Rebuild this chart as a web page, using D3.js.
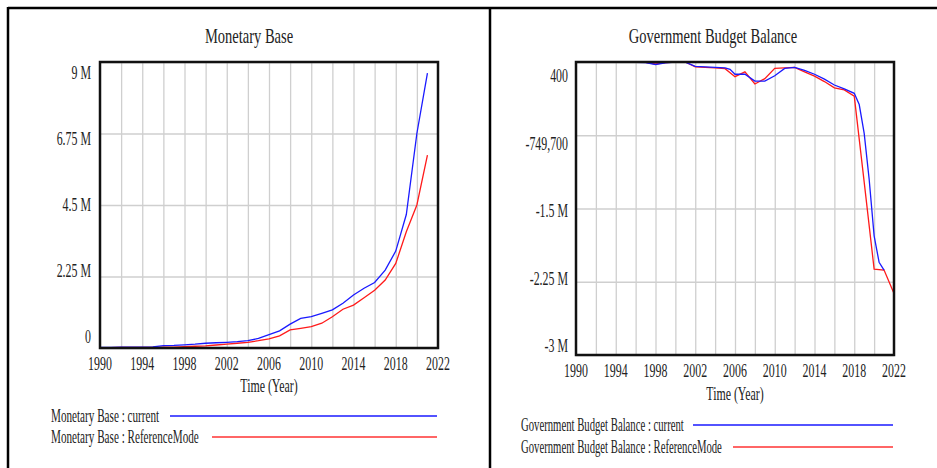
<!DOCTYPE html>
<html>
<head>
<meta charset="utf-8">
<script src="https://cdn.jsdelivr.net/npm/d3@7"></script>
<style>
  body { margin: 0; background: #fff; }
  text { font-family: "Liberation Serif", "Times New Roman", serif; fill: #222; }
</style>
</head>
<body>
<div id="chart"></div>
<script>
"use strict";

/* DATA */

// monetary base, yearly
const mbYears = [1990, 1991, 1992, 1993, 1994, 1995, 1996, 1997, 1998, 1999, 2000, 2001, 2002, 2003, 2004, 2005,
    2006, 2007, 2008, 2009, 2010, 2011, 2012, 2013, 2014, 2015, 2016, 2017, 2018, 2019, 2020, 2021];
const mbCurrent = [20000, 22000, 25000, 28000, 30000, 35000, 75000, 80000, 100000, 120000, 150000, 165000, 180000,
    200000, 230000, 300000, 420000, 540000, 750000, 930000, 985000, 1090000, 1200000, 1410000, 1670000, 1880000,
    2060000, 2450000, 3050000, 4200000, 6750000, 8650000];
const mbReference = [10000, 12000, 15000, 18000, 20000, 22000, 25000, 30000, 40000, 55000, 70000, 95000, 125000,
    150000, 180000, 230000, 290000, 380000, 570000, 620000, 670000, 780000, 985000, 1220000, 1350000, 1580000,
    1820000, 2140000, 2660000, 3660000, 4500000, 6070000];

// government budget balance
const gbbCurrentYears = [1990, 1991, 1992, 1993, 1994, 1995, 1996, 1997, 1998, 1999, 2000, 2001, 2002, 2003, 2004,
    2005, 2005.5, 2006, 2007, 2008, 2009, 2010, 2011, 2012, 2013, 2014, 2015, 2016, 2017, 2018, 2018.5, 2019,
    2019.5, 2020, 2020.5, 2021];
const gbbCurrent = [-3000, -3000, -3000, -3000, -3000, -3000, -3000, -5000, -25000, -8000, 0, -2000, -45000, -50000,
    -55000, -60000, -75000, -125000, -125000, -195000, -195000, -140000, -65000, -55000, -85000, -125000, -175000,
    -235000, -275000, -320000, -435000, -730000, -1200000, -1780000, -2050000, -2130000];
const gbbRefYears = [1990, 1991, 1992, 1993, 1994, 1995, 1996, 1997, 1998, 1999, 2000, 2001, 2002, 2003, 2004,
    2005, 2006, 2007, 2008, 2009, 2010, 2011, 2012, 2013, 2014, 2015, 2016, 2017, 2018, 2019, 2020, 2021, 2022];
const gbbReference = [-2000, -2000, -2000, -2000, -2000, -2000, -2000, -3000, -20000, -5000, 0, 0, -50000, -55000,
    -60000, -68000, -150000, -100000, -225000, -170000, -65000, -60000, -55000, -100000, -145000, -200000, -265000,
    -285000, -350000, -1230000, -2120000, -2130000, -2370000];

// axis ticks
const yearTicks = [1990, 1994, 1998, 2002, 2006, 2010, 2014, 2018, 2022];
const gridYears = [1992, 1994, 1996, 1998, 2000, 2002, 2004, 2006, 2008, 2010, 2012, 2014, 2016, 2018, 2020];
const mbTicks = [0, 2250000, 4500000, 6750000, 9000000];
const mbTickLabels = ["0", "2.25 M", "4.5 M", "6.75 M", "9 M"];
const gbbTicks = [-3000000, -2249900, -1499800, -749700, 400];
const gbbTickLabels = ["-3 M", "-2.25 M", "-1.5 M", "-749,700", "400"];


/* SVG SETUP */

let svgWidth = 937;
let svgHeight = 468;
let squeeze = 0.66; // the font in the picture is narrow, so text gets squeezed

let svg = d3.select("#chart")
    .append("svg")
    .attr("width", svgWidth)
    .attr("height", svgHeight);

// outer frame: top line, left line and the divider
svg.append("line")
    .attr("x1", 8).attr("y1", 8).attr("x2", svgWidth).attr("y2", 8)
    .attr("stroke", "#000").attr("stroke-width", 2.5);
svg.append("line")
    .attr("x1", 8).attr("y1", 7).attr("x2", 8).attr("y2", svgHeight)
    .attr("stroke", "#000").attr("stroke-width", 2.5);
svg.append("line")
    .attr("x1", 490).attr("y1", 7).attr("x2", 490).attr("y2", svgHeight)
    .attr("stroke", "#000").attr("stroke-width", 2.5);


// writes squeezed text
function addText(x, y, str, size, anchor, sx) {
    svg.append("text")
        .attr("transform", "translate(" + x + "," + y + ") scale(" + (sx || squeeze) + ",1)")
        .attr("text-anchor", anchor)
        .attr("font-size", size + "px")
        .text(str);
}


/* PANEL */

function drawPanel(p) {

    let xScale = d3.scaleLinear().domain([1990, 2022]).range([p.left, p.right]);
    let yScale = d3.scaleLinear().domain(p.yDomain).range([p.bottom, p.top]);
    // tick labels sit a bit inside the gridlines, like in the original tool
    let labelScale = d3.scaleLinear().domain(p.yDomain).range(p.labelRange);

    // title
    addText(p.titleX, 43, p.title, 22, "middle");

    // vertical gridlines
    svg.append("g")
        .attr("transform", "translate(0," + p.bottom + ")")
        .call(d3.axisBottom(xScale).tickValues(gridYears).tickSize(-(p.bottom - p.top)).tickFormat(""))
        .call(g => g.select(".domain").remove())
        .call(g => g.selectAll("line").attr("stroke", "#cfcfcf").attr("stroke-width", 1.3));

    // horizontal gridlines
    svg.append("g")
        .attr("transform", "translate(" + p.left + ",0)")
        .call(d3.axisLeft(yScale).tickValues(p.ticks).tickSize(-(p.right - p.left)).tickFormat(""))
        .call(g => g.select(".domain").remove())
        .call(g => g.selectAll("line").attr("stroke", "#cfcfcf").attr("stroke-width", 1.3));

    // y labels
    for (let i = 0; i < p.ticks.length; i++) {
        addText(p.labelX, labelScale(p.ticks[i]), p.tickLabels[i], 18, "end");
    }

    // x labels
    for (let i = 0; i < yearTicks.length; i++) {
        addText(xScale(yearTicks[i]), p.xLabelY, yearTicks[i], 18, "middle");
    }

    // axis title
    addText((p.left + p.right) / 2, p.timeY, "Time (Year)", 18, "middle");

    // the two series
    let line = d3.line()
        .x(d => xScale(d[0]))
        .y(d => yScale(d[1]));

    svg.append("path")
        .datum(d3.zip(p.refYears, p.reference))
        .attr("d", line)
        .attr("fill", "none")
        .attr("stroke", "#ff1a1a")
        .attr("stroke-width", 1.3);

    svg.append("path")
        .datum(d3.zip(p.curYears, p.current))
        .attr("d", line)
        .attr("fill", "none")
        .attr("stroke", "#1a1aff")
        .attr("stroke-width", 1.3);

    // plot frame
    svg.append("rect")
        .attr("x", p.left)
        .attr("y", p.top)
        .attr("width", p.right - p.left)
        .attr("height", p.bottom - p.top)
        .attr("fill", "none")
        .attr("stroke", "#111")
        .attr("stroke-width", 2.5);

    // legend
    addText(p.legendX, p.legendY[0] + 6, p.title + " : current", 18, "start", p.legendSqueeze);
    svg.append("line")
        .attr("x1", p.legendLineStart[0]).attr("x2", p.legendLineEnd)
        .attr("y1", p.legendY[0]).attr("y2", p.legendY[0])
        .attr("stroke", "#1a1aff").attr("stroke-width", 1.6);

    addText(p.legendX, p.legendY[1] + 6, p.title + " : ReferenceMode", 18, "start", p.legendSqueeze);
    svg.append("line")
        .attr("x1", p.legendLineStart[1]).attr("x2", p.legendLineEnd)
        .attr("y1", p.legendY[1]).attr("y2", p.legendY[1])
        .attr("stroke", "#ff3333").attr("stroke-width", 1.6);
}


/* LEFT: MONETARY BASE */

drawPanel({
    title: "Monetary Base",
    titleX: 249,
    left: 100, right: 438, top: 62, bottom: 348,
    yDomain: [0, 9000000],
    ticks: mbTicks,
    tickLabels: mbTickLabels,
    labelRange: [343, 79],
    labelX: 91,
    xLabelY: 370,
    timeY: 392,
    curYears: mbYears, current: mbCurrent,
    refYears: mbYears, reference: mbReference,
    legendX: 51,
    legendY: [416, 437],
    legendSqueeze: 0.62,
    legendLineStart: [170, 212],
    legendLineEnd: 437
});


/* RIGHT: GOVERNMENT BUDGET BALANCE */

drawPanel({
    title: "Government Budget Balance",
    titleX: 713,
    left: 576, right: 894, top: 62, bottom: 355,
    yDomain: [-3000000, 400],
    ticks: gbbTicks,
    tickLabels: gbbTickLabels,
    labelRange: [352, 82],
    labelX: 568,
    xLabelY: 377,
    timeY: 400,
    curYears: gbbCurrentYears, current: gbbCurrent,
    refYears: gbbRefYears, reference: gbbReference,
    legendX: 521,
    legendY: [425, 447],
    legendSqueeze: 0.595,
    legendLineStart: [693, 733],
    legendLineEnd: 893
});
</script>
</body>
</html>
